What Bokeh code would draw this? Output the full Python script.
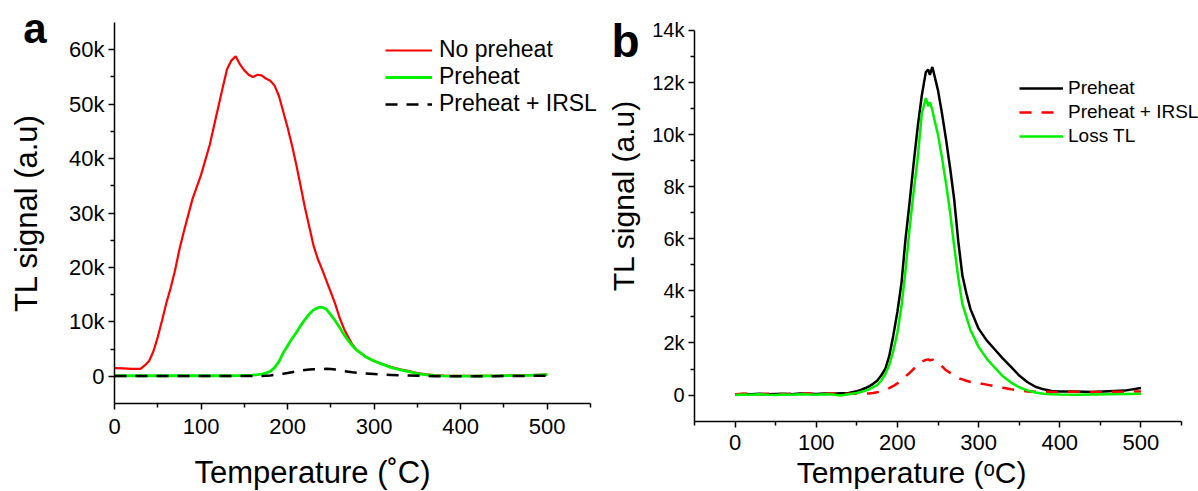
from bokeh.plotting import figure
from bokeh.models import Range1d, FixedTicker, Label
from bokeh.layouts import row
from bokeh.embed import file_html
from bokeh.resources import INLINE

# ---------------- Panel a data (TL signal in thousands of counts) ----------------
TA = [0, 10, 20, 30, 35, 40, 45, 50, 55, 60, 65, 70, 75, 80, 90, 100, 110, 120,
      125, 130, 135, 140, 145, 150, 155, 160, 165, 170, 175, 180, 185, 190, 195, 200,
      205, 210, 215, 220, 225, 230, 235, 240, 245, 250, 255, 260, 265, 270, 275, 280,
      290, 300, 310, 320, 330, 340, 350, 360, 370, 380, 400, 420, 440, 460, 480, 500]
A_NO_PREHEAT = [1.5, 1.45, 1.35, 1.35, 2.0, 2.8, 4.6, 7.2, 10.3, 13.5, 16.3, 19.5, 23.3, 26.5, 32.5, 37.0, 42.5, 49.5,
                53.0, 56.4, 58.0, 58.8, 57.3, 56.2, 55.4, 55.0, 55.4, 55.3, 54.7, 54.3, 53.4, 51.5, 48.6, 45.7,
                42.5, 38.9, 35.0, 31.0, 27.5, 24.0, 21.5, 19.6, 17.5, 15.4, 13.3, 10.8, 8.8, 7.2, 5.8, 4.8,
                3.6, 2.8, 2.2, 1.7, 1.3, 0.95, 0.6, 0.35, 0.2, 0.12, 0.08, 0.08, 0.1, 0.15, 0.2, 0.3]
A_PREHEAT = [0.1, 0.1, 0.1, 0.1, 0.1, 0.1, 0.1, 0.1, 0.1, 0.1, 0.1, 0.1, 0.1, 0.1, 0.1, 0.1, 0.1, 0.1,
             0.1, 0.1, 0.1, 0.12, 0.12, 0.15, 0.18, 0.22, 0.3, 0.4, 0.6, 0.9, 1.6, 2.7, 4.3, 5.6,
             6.9, 8.0, 9.3, 10.4, 11.4, 12.2, 12.6, 12.7, 12.3, 11.3, 10.2, 9.0, 7.7, 6.6, 5.6, 4.8,
             3.6, 2.8, 2.2, 1.6, 1.2, 0.85, 0.5, 0.25, 0.12, 0.06, 0.04, 0.05, 0.08, 0.12, 0.18, 0.3]
A_PREHEAT_IRSL = [0.05, 0.05, 0.05, 0.05, 0.05, 0.05, 0.05, 0.05, 0.05, 0.05, 0.05, 0.05, 0.05, 0.05, 0.05, 0.05, 0.05, 0.05,
                  0.05, 0.05, 0.05, 0.05, 0.05, 0.05, 0.05, 0.05, 0.05, 0.05, 0.08, 0.15, 0.25, 0.35, 0.48, 0.6,
                  0.75, 0.9, 1.03, 1.15, 1.23, 1.3, 1.33, 1.35, 1.37, 1.35, 1.25, 1.1, 0.95, 0.85, 0.73, 0.65,
                  0.5, 0.4, 0.3, 0.25, 0.2, 0.15, 0.1, 0.05, 0.03, 0.02, 0.02, 0.02, 0.03, 0.05, 0.08, 0.12]

A_X_TICKS = [0, 100, 200, 300, 400, 500]
A_X_MINOR = [50, 150, 250, 350, 450, 550]
A_Y_TICKS = [0, 10000, 20000, 30000, 40000, 50000, 60000]
A_Y_LABELS = ["0", "10k", "20k", "30k", "40k", "50k", "60k"]
A_Y_MINOR = [5000, 15000, 25000, 35000, 45000, 55000]

# ---------------- Panel b data (thousands of counts) ----------------
TB = [0, 10, 20, 30, 40, 50, 60, 70, 80, 90, 100, 110, 120, 130, 140,
      150, 155, 160, 165, 170, 175, 180, 185, 190, 195, 200, 205, 210, 215, 220, 225, 230, 235,
      238, 240, 243, 245,
      250, 255, 260, 265, 270, 275, 280, 285, 290,
      300, 310, 320, 330, 340, 350, 360, 370, 380, 390, 400,
      420, 440, 460, 480, 500]
B_PREHEAT = [0.02, 0.04, 0.03, 0.05, 0.03, 0.04, 0.05, 0.03, 0.06, 0.05, 0.04, 0.06, 0.05, 0.07, 0.08,
             0.15, 0.2, 0.26, 0.33, 0.43, 0.55, 0.75, 1.0, 1.5, 2.3, 3.2, 4.3, 6.0, 7.4, 8.9, 10.3, 11.5, 12.4,
             12.5, 12.3, 12.6, 12.35,
             11.7, 10.8, 9.8, 8.7, 7.5, 5.9, 4.6, 3.9, 3.3,
             2.55, 2.1, 1.75, 1.4, 1.08, 0.75, 0.5, 0.32, 0.22, 0.16, 0.14,
             0.14, 0.12, 0.15, 0.17, 0.27]
B_PREHEAT_IRSL = [0.03, 0.05, 0.04, 0.03, 0.05, 0.04, 0.03, 0.05, 0.04, 0.06, 0.05, 0.04, 0.06, 0.05, 0.05,
                  0.05, 0.05, 0.05, 0.06, 0.08, 0.11, 0.14, 0.2, 0.27, 0.35, 0.45, 0.58, 0.72, 0.85, 1.0, 1.17, 1.28, 1.35,
                  1.37, 1.33, 1.36, 1.33,
                  1.27, 1.1, 0.95, 0.85, 0.74, 0.65, 0.6, 0.55, 0.5,
                  0.46, 0.4, 0.34, 0.28, 0.22, 0.17, 0.14, 0.13, 0.13, 0.12, 0.12,
                  0.13, 0.12, 0.13, 0.13, 0.14]
B_LOSS_TL = [0.0, 0.02, 0.01, 0.03, 0.01, 0.0, 0.02, 0.01, 0.03, 0.02, 0.01, 0.03, 0.02, -0.02, 0.03,
             0.08, 0.12, 0.16, 0.22, 0.3, 0.38, 0.55, 0.8, 1.15, 1.7, 2.4, 3.4, 4.8, 6.4, 7.8, 9.1, 10.8, 11.4,
             11.1, 11.25, 10.95, 10.65,
             10.0, 9.1, 8.1, 7.0, 5.7, 4.5, 3.5, 3.0, 2.5,
             1.85, 1.4, 1.05, 0.72, 0.48, 0.3, 0.18, 0.1, 0.05, 0.03, 0.02,
             0.01, 0.02, 0.03, 0.04, 0.05]

B_X_TICKS = [0, 100, 200, 300, 400, 500]
B_X_MINOR = [-50, 50, 150, 250, 350, 450, 550]
B_Y_TICKS = [0, 2000, 4000, 6000, 8000, 10000, 12000, 14000]
B_Y_LABELS = ["0", "2k", "4k", "6k", "8k", "10k", "12k", "14k"]
B_Y_MINOR = [1000, 3000, 5000, 7000, 9000, 11000, 13000]

FONT = "Liberation Sans"
RED = "#ff0000"
GREEN = "#00f000"


def k(vals):
    return [v * 1000 for v in vals]


def make_fig(width, xr, yr, x_fixed, y_fixed, x_bounds, y_bounds,
             xt, xm, yt, ym, ylabels, xfs, yfs, xstand, ystand):
    p = figure(width=width, height=491, x_range=Range1d(*xr), y_range=Range1d(*yr),
               output_backend="svg", toolbar_location=None,
               min_border_left=0, min_border_right=0, min_border_top=0, min_border_bottom=0)
    p.grid.visible = False
    p.outline_line_color = None
    p.xaxis.fixed_location = x_fixed
    p.yaxis.fixed_location = y_fixed
    p.xaxis.bounds = x_bounds
    p.yaxis.bounds = y_bounds
    p.xaxis.ticker = FixedTicker(ticks=xt, minor_ticks=xm)
    p.yaxis.ticker = FixedTicker(ticks=yt, minor_ticks=ym)
    p.yaxis.major_label_overrides = {t: s for t, s in zip(yt, ylabels)}
    for ax in (p.xaxis[0], p.yaxis[0]):
        ax.axis_line_color = "black"
        ax.axis_line_width = 1.5
        ax.major_tick_line_color = "black"
        ax.minor_tick_line_color = "black"
        ax.major_tick_line_width = 1.5
        ax.minor_tick_line_width = 1.5
        ax.major_tick_in = 0
        ax.major_tick_out = 6
        ax.minor_tick_in = 0
        ax.minor_tick_out = 4
        ax.major_label_text_font = FONT
        ax.major_label_text_color = "black"
    p.xaxis.major_label_text_font_size = xfs
    p.yaxis.major_label_text_font_size = yfs
    p.xaxis.major_label_standoff = xstand
    p.yaxis.major_label_standoff = ystand
    return p


def style_legend(lg, loc, gw, rh, stand, fs):
    lg.location = loc
    lg.padding = 0
    lg.margin = 0
    lg.spacing = 0
    lg.glyph_width = gw
    lg.glyph_height = rh
    lg.label_height = rh
    lg.label_standoff = stand
    lg.label_text_font = FONT
    lg.label_text_font_size = fs
    lg.label_text_color = "black"
    lg.border_line_alpha = 0
    lg.background_fill_alpha = 0


def text(p, x, y, s, size, bold=False, angle=0.0, baseline="alphabetic"):
    p.add_layout(Label(x=x, y=y, text=s, text_font=FONT, text_font_size=size,
                       text_font_style="bold" if bold else "normal", text_color="black",
                       text_align="center", text_baseline=baseline, angle=angle))


# ---------------- Panel a ----------------
pa = make_fig(600, (-131.72, 561.56), (-21167, 69042), -5000, 0, (0, 550), (-5000, 65000),
              A_X_TICKS, A_X_MINOR, A_Y_TICKS, A_Y_MINOR, A_Y_LABELS, "22px", "22px", 9, 4)

pa.line(TA, k(A_NO_PREHEAT), line_color=RED, line_width=2.2, legend_label="No preheat")
pa.line(TA, k(A_PREHEAT), line_color=GREEN, line_width=2.8, legend_label="Preheat")
pa.line(TA, k(A_PREHEAT_IRSL), line_color="black", line_width=2.5, line_dash="12 9",
        legend_label="Preheat + IRSL")
style_legend(pa.legend[0], (385, 374), 47, 26, 7, "23px")

text(pa, 228.8, -17677, "Temperature (\u02daC)", "31px")
text(pa, -101.7, 30000, "TL signal (a.u)", "31px", angle=1.5708, baseline="middle")
text(pa, -91.9, 63898, "a", "42px", bold=True)

# ---------------- Panel b ----------------
pb = make_fig(598, (-165.81, 570.94), (-3704, 15152), -1000, -50, (-50, 550), (-1000, 14000),
              B_X_TICKS, B_X_MINOR, B_Y_TICKS, B_Y_MINOR, B_Y_LABELS, "22px", "20px", 8, 4)

pb.line(TB, k(B_PREHEAT), line_color="black", line_width=2.5, legend_label="Preheat")
pb.line(TB, k(B_PREHEAT_IRSL), line_color=RED, line_width=2.5, line_dash="12 10",
        legend_label="Preheat + IRSL")
pb.line(TB, k(B_LOSS_TL), line_color=GREEN, line_width=2.5, legend_label="Loss TL")
style_legend(pb.legend[0], (419, 343), 44, 24, 5, "19px")

text(pb, 217.4, -2974, "Temperature (\u1d52C)", "30px")
text(pb, -137.5, 7664, "TL signal (a.u)", "30px", angle=1.5708, baseline="middle")
text(pb, -135, 13578, "b", "46px", bold=True)

layout = row(pa, pb)
open("out.html", "w").write(file_html(layout, INLINE))
